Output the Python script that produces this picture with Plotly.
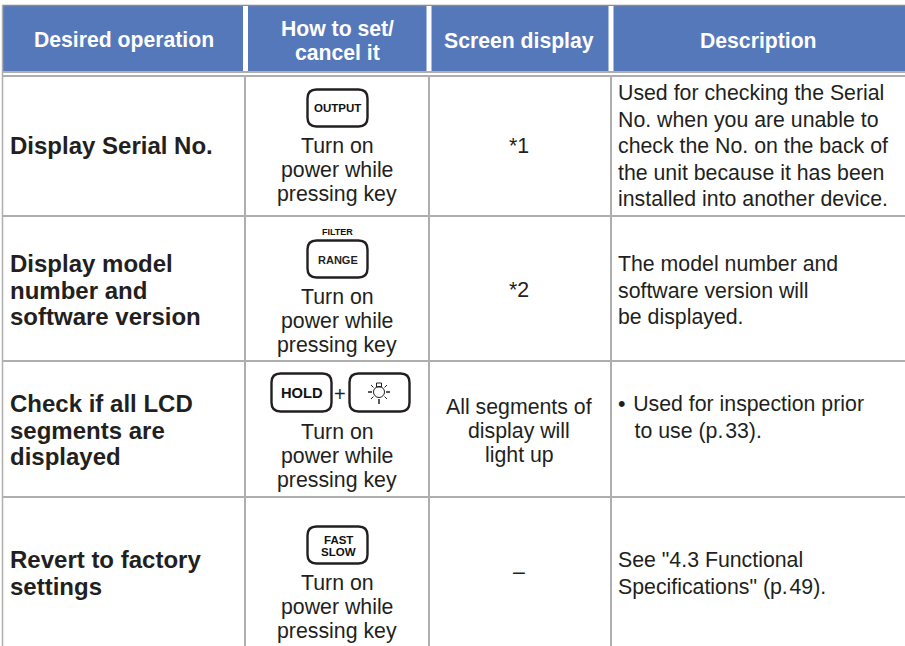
import plotly.graph_objects as go

# ---- table content ----
header_labels = [["Desired operation"], ["How to set/", "cancel it"], ["Screen display"], ["Description"]]
operations = [["Display Serial No."],
              ["Display model", "number and", "software version"],
              ["Check if all LCD", "segments are", "displayed"],
              ["Revert to factory", "settings"]]
how_to = ["Turn on", "power while", "pressing key"]
screen_display = [["*1"], ["*2"], ["All segments of", "display will", "light up"], ["–"]]
descriptions = [["Used for checking the Serial", "No. when you are unable to",
                 "check the No. on the back of", "the unit because it has been",
                 "installed into another device."],
                ["The model number and", "software version will", "be displayed."],
                ["• \u200aUsed for inspection prior", "\u2002 to use (p.\u200a33)."],
                ["See \"4.3 Functional", "Specifications\" (p.\u200a49)."]]

# ---- layout ----
W, H = 905, 646
BLUE = "#5578bb"
GRID = "#aeaeae"
INK = "#231f20"
FONT = "Liberation Sans"
BODY = 21.3
col_lines = [245, 429, 611]
row_lines = [216, 361, 497]
header_seps = [245.5, 429, 611]
mid_x = [124, 337, 519, 758]
desc_x = 616
op_x = 8

shapes, annots = [], []

def text(x, y, s, size=BODY, color=INK, bold=False, anchor="center"):
    annots.append(dict(x=x, y=y, xref="x", yref="y", text=f"<b>{s}</b>" if bold else s,
                       showarrow=False, xanchor=anchor, yanchor="middle",
                       font=dict(family=FONT, size=size, color=color)))

def line(x0, y0, x1, y1, color=GRID, w=2):
    shapes.append(dict(type="line", x0=x0, y0=y0, x1=x1, y1=y1, xref="x", yref="y",
                       line=dict(color=color, width=w)))

def key(x0, y0, x1, y1, r=9, w=2.4):
    p = (f"M{x0+r},{y0} L{x1-r},{y0} Q{x1},{y0} {x1},{y0+r} L{x1},{y1-r} Q{x1},{y1} {x1-r},{y1} "
         f"L{x0+r},{y1} Q{x0},{y1} {x0},{y1-r} L{x0},{y0+r} Q{x0},{y0} {x0+r},{y0} Z")
    shapes.append(dict(type="path", path=p, xref="x", yref="y", line=dict(color="#231f20", width=w),
                       fillcolor="white"))

# header band
shapes.append(dict(type="rect", x0=2, x1=W, y0=6, y1=71, xref="x", yref="y",
                   fillcolor=BLUE, line=dict(width=0), layer="below"))
line(2, 5.5, W, 5.5, "#8a8a8a", 1.5)
for x in header_seps:
    line(x, 6, x, 71, "white", 5)
line(2, 72, W, 72, GRID, 2)
line(2, 76, W, 76, GRID, 2)
line(2.5, 5, 2.5, 646, GRID, 1.5)
for x in col_lines:
    line(x, 76, x, H, GRID, 2)
for y in row_lines:
    line(2, y, W, y, GRID, 2)

# header text
HEAD = 21.2
text(mid_x[0], 40, header_labels[0][0], HEAD, "white", True)
text(mid_x[1], 28, header_labels[1][0], HEAD, "white", True)
text(mid_x[1], 52.5, header_labels[1][1], HEAD, "white", True)
text(mid_x[2], 41, header_labels[2][0], HEAD, "white", True)
text(mid_x[3], 41, header_labels[3][0], HEAD, "white", True)

# first column
for lines_, ys in zip(operations, [[145.5], [263.5, 290, 316.5], [403.5, 430.5, 456.5], [559.5, 586.5]]):
    for s, y in zip(lines_, ys):
        text(op_x, y, s, 24, INK, True, "left")

# how-to lines
for ys in ([146, 170, 194], [297, 321, 345], [432, 456, 480], [583, 607, 631]):
    for s, y in zip(how_to, ys):
        text(mid_x[1], y, s)

# screen column
for lines_, ys in zip(screen_display, [[146], [290], [407, 431, 455], [572]]):
    for s, y in zip(lines_, ys):
        text(mid_x[2], y, s)

# description
for lines_, ys in zip(descriptions, [[93, 119.5, 146, 172.5, 199], [264, 290.5, 317],
                                     [404, 431], [560, 587]]):
    for s, y in zip(lines_, ys):
        text(desc_x, y, s, BODY, INK, False, "left")

# key caps
key(307.5, 89.5, 367.5, 126.5)
text(337.5, 108, "OUTPUT", 11.5, "#111", True)
key(307.5, 240.5, 367.5, 277.5)
text(337.5, 259.5, "RANGE", 11, "#231f20", True)
text(337.5, 232, "FILTER", 9, "#111", True)
key(271.5, 373.5, 331.5, 411.5)
text(302, 393, "HOLD", 14.7, "#111", True)
text(340, 394, "+", 20, INK)
key(349.5, 373.5, 409.5, 411.5)
key(307.5, 526.5, 367.5, 563.5)
text(338, 539.5, "FAST", 11.5, "#111", True)
text(338, 551.5, "SLOW", 11.5, "#111", True)

# lamp icon
cx, cy = 379, 392
shapes.append(dict(type="circle", x0=cx-5.5, x1=cx+5.5, y0=cy-5.5, y1=cy+5.5, xref="x", yref="y",
                   line=dict(color="#231f20", width=1)))
for dx0, dy0, dx1, dy1, lw in [(-11, 0, -7, 0, 1.5), (7, 0, 11, 0, 1.5), (0, 7, 0, 12, 1.5),
                               (-8, -7, -5.5, -4.5, 1), (8, -7, 5.5, -4.5, 1),
                               (-8, 7, -5.5, 4.5, 1), (8, 7, 5.5, 4.5, 1)]:
    line(cx+dx0, cy+dy0, cx+dx1, cy+dy1, "#231f20", lw)
shapes.append(dict(type="rect", x0=cx-2.5, x1=cx+2.5, y0=cy-9, y1=cy-5, xref="x", yref="y",
                   line=dict(color="#231f20", width=1)))

fig = go.Figure()
fig.update_layout(width=W, height=H, margin=dict(l=0, r=0, t=0, b=0),
                  paper_bgcolor="white", plot_bgcolor="white", showlegend=False,
                  xaxis=dict(range=[0, W], visible=False, fixedrange=True),
                  yaxis=dict(range=[H, 0], visible=False, fixedrange=True),
                  shapes=shapes, annotations=annots)
fig.write_html("out.html", config=dict(displayModeBar=False),
               default_width=f"{W}px", default_height=f"{H}px",
               post_script="document.body.style.margin='0';")
